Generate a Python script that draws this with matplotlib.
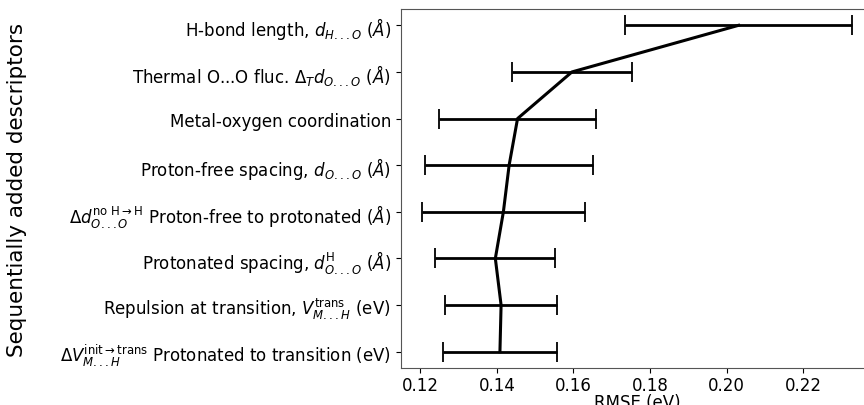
import matplotlib
matplotlib.use("Agg")
import matplotlib.pyplot as plt

# descriptors in the order they were added (top row first)
descriptors = [
    r"H-bond length, $d_{H...O}$ ($\AA$)",
    r"Thermal O...O fluc. $\Delta_T d_{O...O}$ ($\AA$)",
    "Metal-oxygen coordination",
    r"Proton-free spacing, $d_{O...O}$ ($\AA$)",
    r"$\Delta d_{O...O}^{\mathrm{no\ H\rightarrow H}}$ Proton-free to protonated ($\AA$)",
    r"Protonated spacing, $d_{O...O}^{\mathrm{H}}$ ($\AA$)",
    r"Repulsion at transition, $V_{M...H}^{\mathrm{trans}}$ (eV)",
    r"$\Delta V_{M...H}^{\mathrm{init\rightarrow trans}}$ Protonated to transition (eV)",
]
rmse_mean = [0.2031, 0.1596, 0.1454, 0.1432, 0.1417, 0.1396, 0.1411, 0.1408]
rmse_std = [0.0297, 0.0157, 0.0204, 0.0219, 0.0213, 0.0157, 0.0146, 0.0148]

fig = plt.figure(figsize=(8.64, 4.06), dpi=100)
ax = fig.add_axes([0.4638, 0.0911, 0.548, 0.8843])

ypos = list(range(len(descriptors)))
ax.errorbar(rmse_mean, ypos, xerr=rmse_std, color="black", linewidth=2.2,
            elinewidth=2, capsize=7, capthick=1.3)

ax.set_yticks(ypos)
ax.set_yticklabels(descriptors, fontsize=12)
ax.invert_yaxis()
ax.set_xlim(0.1149, 0.2385)
ax.set_xticks([0.12, 0.14, 0.16, 0.18, 0.20, 0.22])
ax.tick_params(axis="x", labelsize=12, pad=2.5)
ax.set_xlabel("RMSE (eV)", fontsize=12, labelpad=-1)
ax.set_ylabel("Sequentially added descriptors", fontsize=15.5)
ax.yaxis.set_label_coords(-0.79, 0.5)
for s in ax.spines.values():
    s.set_color("#555555")

fig.savefig("out.png", dpi=100)
